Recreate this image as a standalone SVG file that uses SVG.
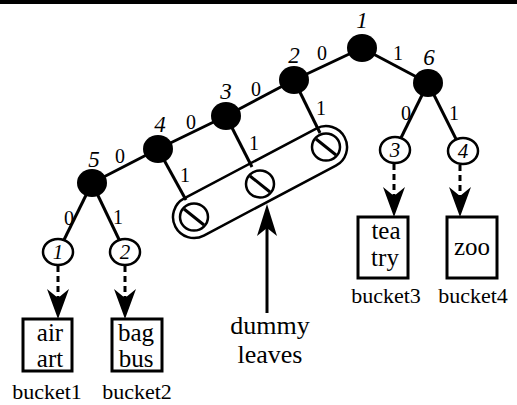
<svg xmlns="http://www.w3.org/2000/svg" width="517" height="405" viewBox="0 0 517 405">
<style>
.edge{stroke:#000;stroke-width:3;fill:none}
.dash{stroke:#000;stroke-width:3;fill:none;stroke-dasharray:6 4}
.inner{fill:#000}
.leaf{fill:#fff;stroke:#000;stroke-width:2.5}
.dummy{fill:#fff;stroke:#000;stroke-width:2.5}
.box{fill:#fff;stroke:#000;stroke-width:3}
.nl{font-family:"Liberation Serif",serif;font-style:italic;font-size:23px;text-anchor:middle}
.ll{font-family:"Liberation Serif",serif;font-style:italic;font-size:21px;text-anchor:middle}
.el{font-family:"Liberation Serif",serif;font-size:20px;text-anchor:middle}
.bt{font-family:"Liberation Serif",serif;font-size:25px;text-anchor:middle}
.dl{font-family:"Liberation Serif",serif;font-size:26px;text-anchor:middle}
.bl{font-family:"Liberation Serif",serif;font-size:22px;text-anchor:middle}
</style>
<defs>
<path id="head" d="M0,0 L-11,-30 L0,-21 L11,-30 Z" fill="#000"/>
</defs>
<rect x="0" y="0" width="517" height="4" fill="#000"/>
<g id="connectors">
<line class="edge" x1="362" y1="48" x2="294" y2="80"/>
<line class="edge" x1="362" y1="48" x2="428" y2="83"/>
<line class="edge" x1="294" y1="80" x2="226" y2="116"/>
<line class="edge" x1="226" y1="116" x2="158" y2="149"/>
<line class="edge" x1="158" y1="149" x2="92" y2="183"/>
<line class="edge" x1="92" y1="183" x2="58" y2="252"/>
<line class="edge" x1="92" y1="183" x2="125" y2="252"/>
<line class="edge" x1="428" y1="83" x2="395" y2="150"/>
<line class="edge" x1="428" y1="83" x2="462" y2="151"/>
<line class="edge" x1="158" y1="149" x2="186" y2="200"/>
<line class="edge" x1="226" y1="116" x2="252" y2="167"/>
<line class="edge" x1="294" y1="80" x2="320" y2="133"/>
<line class="dash" x1="58" y1="266" x2="58" y2="298"/>
<use href="#head" x="58" y="319"/>
<line class="dash" x1="125" y1="266" x2="125" y2="298"/>
<use href="#head" x="125" y="319"/>
<line class="dash" x1="394" y1="164" x2="394" y2="196"/>
<use href="#head" x="394" y="217"/>
<line class="dash" x1="460" y1="165" x2="460" y2="196"/>
<use href="#head" x="460" y="217"/>
<line class="edge" x1="267" y1="313" x2="267" y2="226"/>
<path d="M267,204 L257,236 L267,228 L277,236 Z" fill="#000"/>
<g class="el">
<text x="322" y="60">0</text>
<text x="398" y="60">1</text>
<text x="256" y="96">0</text>
<text x="191" y="129">0</text>
<text x="120" y="163">0</text>
<text x="321" y="115">1</text>
<text x="254" y="150">1</text>
<text x="185" y="182">1</text>
<text x="406" y="120">0</text>
<text x="454" y="120">1</text>
<text x="69" y="225">0</text>
<text x="118" y="224">1</text>
</g>
</g>
<g id="node1"><ellipse class="inner" cx="362" cy="48" rx="15" ry="14"/><text class="nl" x="362" y="28">1</text></g>
<g id="node2"><ellipse class="inner" cx="294" cy="80" rx="15" ry="14"/><text class="nl" x="294" y="63">2</text></g>
<g id="node3"><ellipse class="inner" cx="226" cy="116" rx="15" ry="14"/><text class="nl" x="226" y="99">3</text></g>
<g id="node4"><ellipse class="inner" cx="158" cy="149" rx="15" ry="14"/><text class="nl" x="160" y="132">4</text></g>
<g id="node5"><ellipse class="inner" cx="92" cy="183" rx="15" ry="14"/><text class="nl" x="94" y="167">5</text></g>
<g id="node6"><ellipse class="inner" cx="428" cy="83" rx="15" ry="14"/><text class="nl" x="429" y="65">6</text></g>
<g id="leaf1"><ellipse class="leaf" cx="58" cy="252" rx="15" ry="13"/><text class="ll" x="58" y="259">1</text></g>
<g id="leaf2"><ellipse class="leaf" cx="125" cy="252" rx="15" ry="13"/><text class="ll" x="125" y="259">2</text></g>
<g id="leaf3"><ellipse class="leaf" cx="395" cy="150" rx="15" ry="13"/><text class="ll" x="395" y="157">3</text></g>
<g id="leaf4"><ellipse class="leaf" cx="463" cy="151" rx="15" ry="13"/><text class="ll" x="463" y="158">4</text></g>
<g id="dummies">
<rect x="173" y="196" width="191.4" height="42" rx="21" transform="rotate(-27.9 194 217)" fill="none" stroke="#000" stroke-width="2.5"/>
<ellipse class="dummy" cx="194" cy="217" rx="14" ry="13.5"/>
<line class="edge" x1="184" y1="209" x2="204" y2="225" stroke-width="2.5"/>
<ellipse class="dummy" cx="260" cy="184" rx="14" ry="13.5"/>
<line class="edge" x1="250" y1="176" x2="270" y2="192" stroke-width="2.5"/>
<ellipse class="dummy" cx="326" cy="147" rx="14" ry="13.5"/>
<line class="edge" x1="316" y1="139" x2="336" y2="155" stroke-width="2.5"/>
</g>
<g id="bucket1"><rect class="box" x="23" y="319" width="49" height="52"/><text class="bt" x="50" y="341">air</text><text class="bt" x="50" y="367">art</text><text class="bl" x="47" y="399">bucket1</text></g>
<g id="bucket2"><rect class="box" x="112" y="319" width="50" height="52"/><text class="bt" x="136" y="341">bag</text><text class="bt" x="136" y="367">bus</text><text class="bl" x="137" y="399">bucket2</text></g>
<g id="bucket3"><rect class="box" x="358" y="217" width="50" height="61"/><text class="bt" x="386" y="239">tea</text><text class="bt" x="385" y="266">try</text><text class="bl" x="386" y="303">bucket3</text></g>
<g id="bucket4"><rect class="box" x="447" y="217" width="50" height="61"/><text class="bt" x="472" y="255">zoo</text><text class="bl" x="473" y="303">bucket4</text></g>
<g id="label"><text class="dl" x="270" y="334">dummy</text><text class="dl" x="270" y="363">leaves</text></g>
</svg>
